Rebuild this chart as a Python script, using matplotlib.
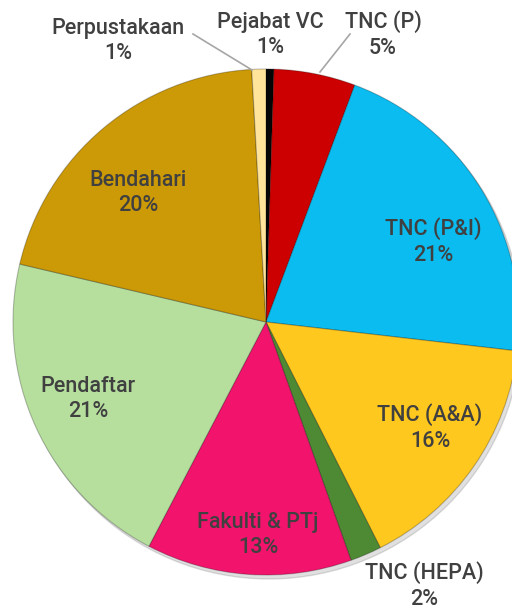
import matplotlib.pyplot as plt
from matplotlib.patches import Circle

labels = ['Pejabat VC', 'TNC (P)', 'TNC (P&I)', 'TNC (A&A)', 'TNC (HEPA)',
          'Fakulti & PTj', 'Pendaftar', 'Bendahari', 'Perpustakaan']
values = [0.5, 5.2, 21.1, 15.7, 2.0, 13.1, 21.0, 20.4, 0.9]
pct_text = ['1%', '5%', '21%', '16%', '2%', '13%', '21%', '20%', '1%']

colors = ['#050505', '#CC0000', '#0ABCF0', '#FFC81E', '#4E8A34',
          '#F2146C', '#B6DF9E', '#CC9A06', '#FFE49A']

# label anchor points in pixel coords (top-left origin)
label_pos = [(270, 35), (383, 35), (433, 242), (430, 428), (424, 586),
             (258, 535), (88, 399), (138, 193), (118, 41)]
leaders = {1: [(350, 34), (320, 72)], 8: [(193, 34), (252, 70)]}

W, H = 512, 612
fig = plt.figure(figsize=(W / 100, H / 100), dpi=100)
ax = fig.add_axes([0, 0, 1, 1])

cx, cy, r = 266, H - 322, 253

# soft shadow behind the pie
ax.add_patch(Circle((cx + 3, cy - 4), r, color='#000000', alpha=0.12, zorder=0))

wedges, _ = ax.pie(values, colors=colors, startangle=90, counterclock=False,
                   center=(cx, cy), radius=r, frame=True,
                   wedgeprops=dict(edgecolor=(0, 0, 0, 0.25), linewidth=0.8))
ax.set_xlim(0, W)
ax.set_ylim(0, H)
ax.set_aspect('equal')
ax.axis('off')

for i, (lab, pct) in enumerate(zip(labels, pct_text)):
    x, y = label_pos[i]
    ax.text(x, H - y, lab + '\n' + pct, ha='center', va='center',
            fontsize=15.5, color='#404040', linespacing=1.3,
            family='Roboto', fontweight='medium', zorder=5)

for i, pts in leaders.items():
    ax.plot([p[0] for p in pts], [H - p[1] for p in pts], color='#A6A6A6',
            lw=1.2, zorder=4)

fig.savefig('out.png', dpi=100)
